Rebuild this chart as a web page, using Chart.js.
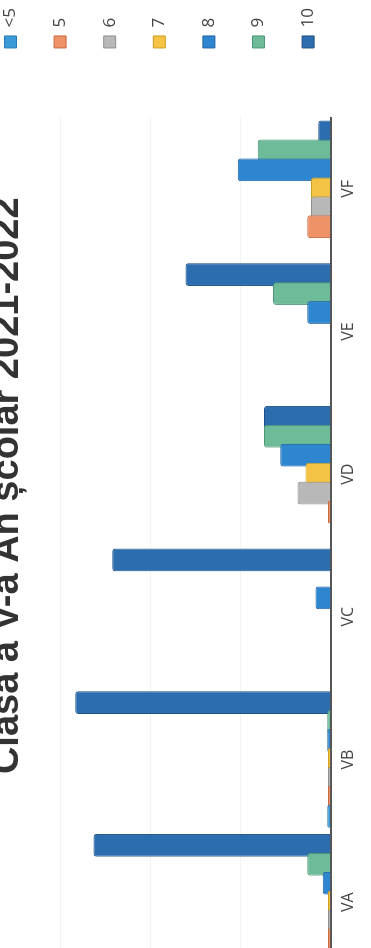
<!DOCTYPE html>
<html lang="ro">
<head>
<meta charset="utf-8">
<title>Clasa a V-a An școlar 2021-2022</title>
<script src="https://cdn.jsdelivr.net/npm/chart.js@4.4.1/dist/chart.umd.min.js"></script>
<style>
    html, body {
        margin: 0;
        padding: 0;
        width: 371px;
        height: 948px;
        overflow: hidden;
        background: #ffffff;
    }
    /* the scanned page is turned a quarter turn, so the chart is drawn turned too */
    #wrap {
        position: absolute;
        left: 0;
        top: 998px;
        width: 1000px;
        height: 371px;
        transform-origin: 0 0;
        transform: rotate(-90deg);
    }
</style>
</head>
<body>
<div id="wrap">
    <canvas id="medii-chart" width="1000" height="371"></canvas>
</div>
<script>
// Clase si medii
const classes = ['VA', 'VB', 'VC', 'VD', 'VE', 'VF'];
const gradeLabels = ['<5', '5', '6', '7', '8', '9', '10'];

// valori (pe clase)
const under5  = [0.3, 0.4, 0,    0,   0,    0];
const grade5  = [0.3, 0.3, 0,    0.3, 0,    2.6];
const grade6  = [0.3, 0.3, 0,    3.7, 0,    2.2];
const grade7  = [0.3, 0.3, 0,    2.8, 0,    2.2];
const grade8  = [0.9, 0.4, 1.7,  5.6, 2.6,  10.3];
const grade9  = [2.6, 0.4, 0,    7.4, 6.4,  8.1];
const grade10 = [26.3, 28.3, 24.2, 7.4, 16.1, 1.4];

const seriesValues = [under5, grade5, grade6, grade7, grade8, grade9, grade10];

const colors = [
    '#3A9AD9', // albastru deschis
    '#EE9268', // portocaliu
    '#B8B8B8', // gri
    '#F4C343', // galben
    '#2E86D1', // albastru
    '#6DBB98', // verde
    '#2C6DB0'  // albastru inchis
];
const edgeColors = ['#2A7AB5', '#C9693F', '#8E8E8E', '#CF9E22', '#1F62A3', '#4C9575', '#1D4F85'];

function createMediiChart() {
    const ctx = document.getElementById('medii-chart');

    const datasets = gradeLabels.map((label, i) => ({
        label: label,
        data: seriesValues[i],
        backgroundColor: colors[i],
        borderColor: edgeColors[i],
        borderWidth: 1,
        borderRadius: 3,
        borderSkipped: 'start',
        categoryPercentage: 0.93,
        barPercentage: 1.2
    }));

    new Chart(ctx, {
        type: 'bar',
        data: {
            labels: classes,
            datasets: datasets
        },
        options: {
            responsive: false,
            devicePixelRatio: 1,
            animation: false,
            layout: {
                padding: { left: 24.5, right: 0, top: 0, bottom: 5 }
            },
            scales: {
                x: {
                    grid: { display: false, drawTicks: false },
                    border: { display: true, color: '#555555', width: 2 },
                    ticks: {
                        padding: 8,
                        color: '#444444',
                        font: { family: 'Open Sans', size: 16 }
                    }
                },
                y: {
                    position: 'right',
                    min: 0,
                    max: 30,
                    ticks: { display: false, stepSize: 10 },
                    grid: { color: '#f3f3f3', drawTicks: false },
                    border: { display: false },
                    afterFit: function(scale) {
                        scale.width = 67.5;
                    }
                }
            },
            plugins: {
                title: {
                    display: true,
                    text: 'Clasa a V-a An școlar 2021-2022',
                    color: '#333333',
                    font: { family: 'Liberation Sans', size: 38, weight: 'bold' },
                    padding: { top: -14.8, bottom: 29.2 }
                },
                legend: {
                    position: 'right',
                    align: 'start',
                    labels: {
                        boxWidth: 12,
                        boxHeight: 12,
                        padding: 2,
                        color: '#444444',
                        font: { family: 'Open Sans', size: 17, lineHeight: 2.8 },
                        generateLabels: function(chart) {
                            const items = Chart.defaults.plugins.legend.labels.generateLabels(chart);
                            // texto como lista para ter altura de linha maior
                            return items.map(item => Object.assign(item, { text: [item.text] }));
                        }
                    }
                },
                tooltip: { enabled: false }
            }
        }
    });
}

createMediiChart();
</script>
</body>
</html>
